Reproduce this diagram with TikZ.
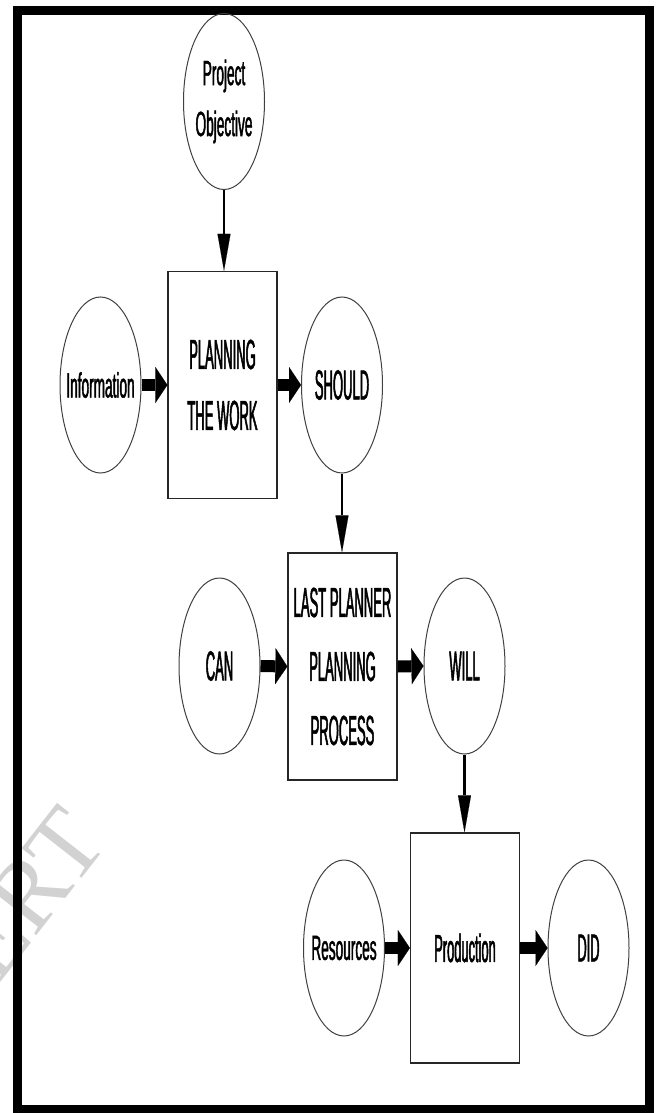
\documentclass[tikz,border=0pt]{standalone}
\usepackage{fontspec}
\setmainfont{Liberation Sans}
\newfontfamily\bigf[FakeStretch=0.31,FakeBold=1.2]{Liberation Sans}
\newfontfamily\midf[FakeStretch=0.33,FakeBold=1.2]{Liberation Sans}
\newfontfamily\smlf[FakeStretch=0.39,FakeBold=1.2]{Liberation Sans}
\newfontfamily\wmf{Liberation Serif}
\usetikzlibrary{shapes.geometric,arrows.meta}
\tikzset{
  oval/.style={ellipse, draw=black!75, line width=1pt, minimum width=81pt, minimum height=176pt, inner sep=0pt, align=center},
  procbox/.style={rectangle, draw=black!85, line width=1.3pt, minimum width=109pt, minimum height=227pt, inner sep=0pt, align=center},
  bigtxt/.style={font=\bigf\fontsize{42}{62}\selectfont},
  midtxt/.style={font=\midf\fontsize{39}{58}\selectfont},
  smltxt/.style={font=\smlf\fontsize{35}{51}\selectfont},
  flow/.style={line width=12pt, -{Triangle[length=12pt,width=36pt,line width=0.1pt]}},
  downarrow/.style={line width=2.2pt, -{Triangle[length=37pt,width=13pt,line width=0.1pt]}},
  frame/.style={line width=9pt, draw=black},
  watermark/.style={text=gray!35, font=\wmf\fontsize{100}{100}\selectfont}
}
\begin{document}
\begin{tikzpicture}[x=1pt,y=-1pt]
\useasboundingbox (0,0) rectangle (659,1113);
\begin{scope}
  \clip (0,0) rectangle (659,1113);
  \node[watermark, rotate=52, anchor=base east] (wm) at (112,840) {IJERT};
\end{scope}
\draw[frame] (17.5,10.5) rectangle (649.5,1109.5);

% row 0
\node[oval, smltxt] (po) at (224,101.5) {\makebox[0pt]{Project}\\\makebox[0pt]{Objective}};
% row 1
\node[oval, smltxt] (info) at (100.5,385) {\makebox[0pt]{Information}};
\node[procbox, bigtxt, font=\bigf\fontsize{42}{61}\selectfont] (pw) at (222.5,385) {PLANNING\\THE WORK};
\node[oval, bigtxt] (should) at (342,385) {\makebox[0pt]{SHOULD}};
% row 2
\node[oval, bigtxt] (can) at (219.5,666) {\makebox[0pt]{CAN}};
\node[procbox, bigtxt, font=\bigf\fontsize{42}{64}\selectfont] (lp) at (342.5,666.5) {LAST PLANNER\\PLANNING\\PROCESS};
\node[oval, bigtxt] (will) at (464.5,666) {\makebox[0pt]{WILL}};
% row 3
\node[oval, smltxt] (res) at (344,948) {\makebox[0pt]{Resources}};
\node[procbox, midtxt, minimum height=230pt] (prod) at (465,948) {Production};
\node[oval, midtxt] (did) at (588.5,948) {\makebox[0pt]{DID}};

% connectors
\draw[downarrow] (po.south) -- (po.south |- pw.north);
\draw[flow] (info.east) -- (pw.west);
\draw[flow] (pw.east) -- (should.west);
\draw[downarrow] (should.south) -- (should.south |- lp.north);
\draw[flow] (can.east) -- (lp.west);
\draw[flow] (lp.east) -- (will.west);
\draw[downarrow] (will.south) -- (will.south |- prod.north);
\draw[flow] (res.east) -- (prod.west);
\draw[flow] (prod.east) -- (did.west);
\end{tikzpicture}
\end{document}
